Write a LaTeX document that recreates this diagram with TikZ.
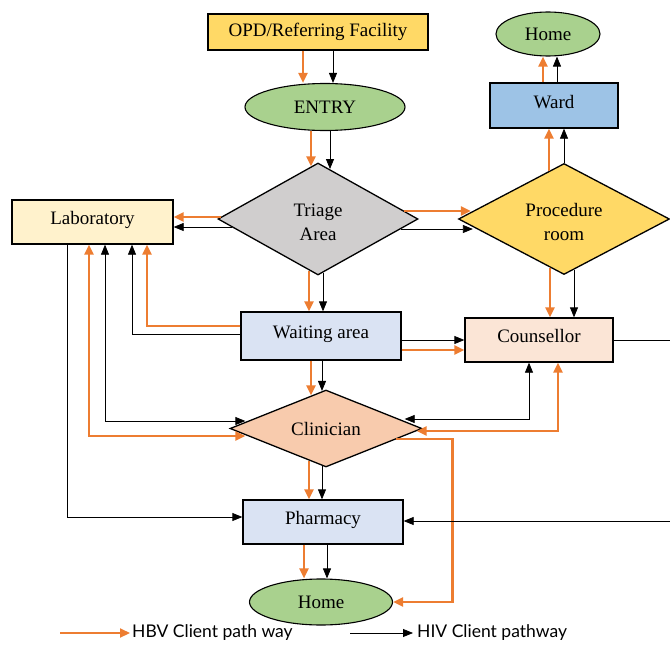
\documentclass[tikz,border=0pt]{standalone}
\usepackage{fontspec}
\setmainfont{Liberation Serif}
\newfontfamily\legendfont{Lato}
\usetikzlibrary{shapes.geometric,arrows.meta}
\definecolor{yel}{HTML}{FFD966}
\definecolor{grn}{HTML}{A9D18E}
\definecolor{gry}{HTML}{D0CECE}
\definecolor{labc}{HTML}{FFF2CC}
\definecolor{wardc}{HTML}{9DC3E6}
\definecolor{bluel}{HTML}{DAE3F3}
\definecolor{counc}{HTML}{FBE5D6}
\definecolor{clinc}{HTML}{F8CBAD}
\definecolor{orng}{HTML}{ED7D31}
\begin{document}
\begin{tikzpicture}[x=1pt,y=-1pt,
  nodefont/.style={font=\fontsize{19}{24}\selectfont},
  box/.style={draw, line width=1.3pt, rectangle, inner sep=0pt, nodefont, text height=13pt, text depth=8pt},
  oval/.style={draw, ellipse, line width=1.1pt, inner sep=0pt, nodefont, fill=grn},
  dia/.style={draw, diamond, shape aspect=2, line width=1.3pt, inner sep=0pt, align=center, nodefont},
  hbv/.style={draw=orng, line width=2.2pt, -{Triangle[length=10pt,width=9pt]}},
  hbvboth/.style={draw=orng, line width=2.2pt, {Triangle[length=10pt,width=9pt]}-{Triangle[length=10pt,width=9pt]}},
  hiv/.style={draw=black, line width=0.8pt, -{Triangle[length=10pt,width=8pt]}},
  hivboth/.style={draw=black, line width=0.8pt, {Triangle[length=10pt,width=8pt]}-{Triangle[length=10pt,width=8pt]}},
  hivline/.style={draw=black, line width=0.8pt},
  legend/.style={font=\legendfont\fontsize{17.5}{20}\selectfont, inner sep=0pt, anchor=west}
]
\useasboundingbox (0,0) rectangle (670,645);

% nodes
\node[box, fill=yel, minimum width=220, minimum height=36, text height=13pt, text depth=4pt] (opd) at (318,32) {OPD/Referring Facility};
\node[oval, minimum width=160, minimum height=47] (entry) at (325,107) {ENTRY};
\node[dia, fill=gry, minimum width=200, minimum height=112] (tri) at (318,219) {\rule{0pt}{19pt}Triage\\Area};
\node[box, fill=labc, minimum width=161, minimum height=44] (lab) at (92.5,222) {Laboratory};
\node[oval, minimum width=104, minimum height=44] (homeT) at (548,34) {Home};
\node[box, fill=wardc, minimum width=128, minimum height=45] (ward) at (554,105.5) {Ward};
\node[dia, fill=yel, minimum width=211, minimum height=111] (proc) at (564,219) {\rule{0pt}{19pt}Procedure\\room};
\node[box, fill=bluel, minimum width=160, minimum height=48] (wait) at (321,336) {Waiting area};
\node[box, fill=counc, minimum width=148, minimum height=44] (couns) at (539,340) {Counsellor};
\node[dia, fill=clinc, minimum width=192, minimum height=77] (clin) at (326,428.5) {Clinician};
\node[box, fill=bluel, minimum width=160, minimum height=44] (pharm) at (323,522) {Pharmacy};
\node[oval, minimum width=143, minimum height=46] (homeB) at (321,602) {Home};

% OPD -> ENTRY
\draw[hbv] ([xshift=-15]opd.south) -- ([xshift=-22]entry.north);
\draw[hiv] ([xshift=15]opd.south) -- ([xshift=8]entry.north);
% ENTRY -> Triage
\draw[hbv] ([xshift=-14]entry.south) -- ([xshift=-7,yshift=-4]tri.north);
\draw[hiv] ([xshift=5]entry.south) -- ([xshift=12,yshift=-6.7]tri.north);
% Triage -> Laboratory
\draw[hbv] ([xshift=3.6,yshift=2]tri.west) -- ([yshift=5]lab.east);
\draw[hiv] ([xshift=14.3,yshift=-8]tri.west) -- ([yshift=-5]lab.east);
% Triage -> Procedure
\draw[hbv] ([xshift=-14.3,yshift=8]tri.east) -- ([xshift=13,yshift=8]proc.west);
\draw[hiv] ([xshift=-17.9,yshift=-10]tri.east) -- ([xshift=15,yshift=-10]proc.west);
% Procedure -> Ward
\draw[hbv] ([xshift=-15,yshift=-7.9]proc.north) -- ([xshift=-5]ward.south);
\draw[hiv] (proc.north) -- ([xshift=10]ward.south);
% Ward -> Home
\draw[hbv] ([xshift=-11]ward.north) -- ([xshift=-5]homeT.south);
\draw[hiv] ([xshift=3]ward.north) -- ([xshift=9]homeT.south);
% Procedure -> Counsellor
\draw[hbv] ([xshift=-14,yshift=7.4]proc.south) -- ([xshift=11]couns.north);
\draw[hiv] ([xshift=10,yshift=5.3]proc.south) -- ([xshift=35]couns.north);
% Triage -> Waiting
\draw[hbv] ([xshift=-9,yshift=5]tri.south) -- ([xshift=-12]wait.north);
\draw[hiv] ([xshift=5,yshift=2.8]tri.south) -- ([xshift=2]wait.north);
% Waiting -> Laboratory
\draw[hbv] ([yshift=10]wait.west) -| ([xshift=54.5]lab.south);
\draw[hiv] ([yshift=2]wait.west) -| ([xshift=39.5]lab.south);
% Laboratory <-> Clinician
\draw[hivboth] ([xshift=12.5]lab.south) |- ([xshift=16,yshift=7.5]clin.west);
\draw[hbvboth] ([xshift=-3.5]lab.south) |- ([xshift=16,yshift=-7.5]clin.west);
% Laboratory -> Pharmacy
\draw[hiv] ([xshift=-25.5]lab.south) |- ([yshift=5]pharm.west);
% Waiting -> Counsellor
\draw[hiv] ([yshift=-4]wait.east) -- (couns.west);
\draw[hbv] ([yshift=-14]wait.east) -- ([yshift=-10]couns.west);
% Waiting -> Clinician
\draw[hbv] ([xshift=-10]wait.south) -- ([xshift=-15,yshift=-6]clin.north);
\draw[hiv] ([xshift=1]wait.south) -- ([xshift=-4,yshift=-1.6]clin.north);
% Counsellor <-> Clinician
\draw[hivboth] ([xshift=-10]couns.south) |- ([xshift=-18,yshift=9.5]clin.east);
\draw[hbvboth] ([xshift=19]couns.south) |- ([xshift=-6,yshift=-2.5]clin.east);
% Clinician -> Home (bottom)
\draw[hbv] ([xshift=-26.2,yshift=-10.5]clin.east) -- ++(56,0) |- (homeB.east);
% Clinician -> Pharmacy
\draw[hbv] ([xshift=-17,yshift=6.8]clin.south) -- ([xshift=-14]pharm.north);
\draw[hiv] ([xshift=-4,yshift=1.6]clin.south) -- ([xshift=-1]pharm.north);
% Pharmacy -> Home
\draw[hbv] ([xshift=-19]pharm.south) -- ([xshift=-17]homeB.north);
\draw[hiv] ([xshift=4]pharm.south) -- ([xshift=6]homeB.north);
% Counsellor -> (off right edge) -> Pharmacy
\coordinate (rc1) at (670,340);
\coordinate (rc2) at (670,521);
\draw[hivline] (couns.east) -- (rc1);
\draw[hiv] (rc2) -- ([yshift=1]pharm.east);

% legend
\node[legend] (lg1) at (132,633) {HBV Client path way};
\node[legend] (lg2) at (417,633) {HIV Client pathway};
\coordinate (ls1) at (60,633);
\coordinate (ls2) at (350,633);
\draw[hbv] (ls1) -- ([xshift=-2]lg1.west);
\draw[hiv] (ls2) -- ([xshift=-4]lg2.west);
\end{tikzpicture}
\end{document}
